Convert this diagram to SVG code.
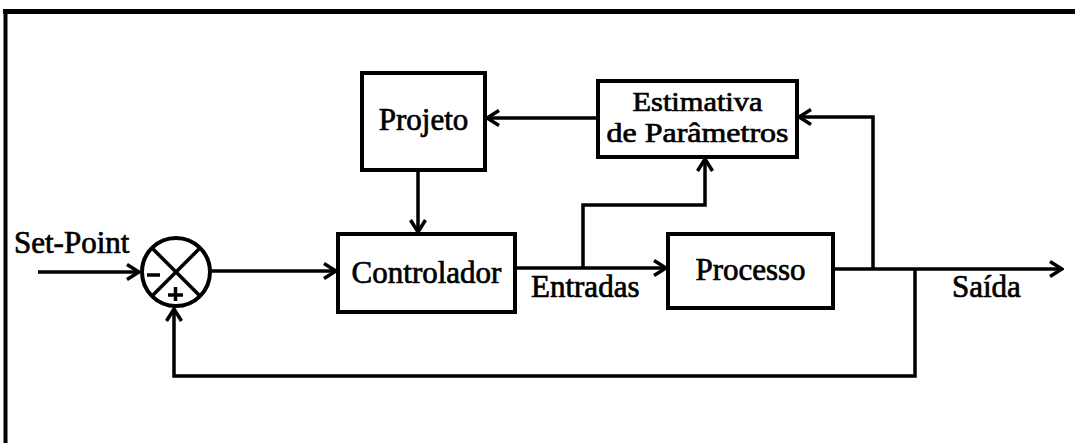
<svg xmlns="http://www.w3.org/2000/svg" width="1075" height="443" viewBox="0 0 1075 443">
<style>
.box{fill:#fff;stroke:#000;stroke-width:4}
.ln{fill:none;stroke:#000;stroke-width:3.5;stroke-linejoin:miter}
.t{font-family:"Liberation Serif","Times New Roman",serif;font-size:31px;fill:#000;stroke:#000;stroke-width:0.7}
.s{font-size:28px}
</style>
<defs>
<marker id="ah" markerUnits="userSpaceOnUse" viewBox="0 0 16 18" refX="14" refY="9" markerWidth="16" markerHeight="18" orient="auto">
<path d="M2,1.5 L14,9 L2,16.5" fill="none" stroke="#000" stroke-width="3.5"/>
</marker>
</defs>
<rect width="1075" height="443" fill="#fff"/>
<g id="frame">
<line x1="3" y1="11.5" x2="1075" y2="11.5" stroke="#000" stroke-width="5"/>
<line x1="5.5" y1="9" x2="5.5" y2="443" stroke="#000" stroke-width="4"/>
</g>
<g id="connectors">
<line class="ln" x1="38" y1="272" x2="139" y2="272" marker-end="url(#ah)"/>
<line class="ln" x1="210" y1="271" x2="336" y2="271" marker-end="url(#ah)"/>
<line class="ln" x1="515" y1="268" x2="666" y2="268" marker-end="url(#ah)"/>
<polyline class="ln" points="583,268 583,205 705,205 705,159" marker-end="url(#ah)"/>
<line class="ln" x1="833" y1="269" x2="1062" y2="269" marker-end="url(#ah)"/>
<polyline class="ln" points="873,269 873,117 799,117" marker-end="url(#ah)"/>
<line class="ln" x1="598" y1="118" x2="487" y2="118" marker-end="url(#ah)"/>
<line class="ln" x1="418" y1="170" x2="418" y2="232" marker-end="url(#ah)"/>
<polyline class="ln" points="915,269 915,376 174,376 174,309" marker-end="url(#ah)"/>
</g>
<g id="sum">
<circle cx="176" cy="272" r="34" fill="none" stroke="#000" stroke-width="4"/>
<line class="ln" x1="152" y1="248" x2="200" y2="296" stroke-width="4"/>
<line class="ln" x1="200" y1="248" x2="152" y2="296" stroke-width="4"/>
<line class="ln" x1="147" y1="275" x2="160" y2="275" stroke-width="4"/>
<line class="ln" x1="168" y1="295" x2="183" y2="295"/>
<line class="ln" x1="175.5" y1="287" x2="175.5" y2="301"/>
</g>
<g id="setpoint"><text class="t" x="14" y="253">Set-Point</text></g>
<g id="controlador">
<rect class="box" x="338" y="234" width="177" height="78"/>
<text class="t" x="426.5" y="283" text-anchor="middle">Controlador</text>
</g>
<g id="processo">
<rect class="box" x="668" y="234" width="165" height="74"/>
<text class="t" x="750.5" y="280" text-anchor="middle">Processo</text>
</g>
<g id="projeto">
<rect class="box" x="362" y="73" width="123" height="97"/>
<text class="t" x="423.5" y="130" text-anchor="middle">Projeto</text>
</g>
<g id="estimativa">
<rect class="box" x="598" y="81" width="199" height="76"/>
<text class="t s" x="632.5" y="111" textLength="130" lengthAdjust="spacingAndGlyphs">Estimativa</text>
<text class="t s" x="606.5" y="142" textLength="182" lengthAdjust="spacingAndGlyphs">de Parâmetros</text>
</g>
<g id="labels">
<text class="t" x="531" y="297">Entradas</text>
<text class="t" x="952" y="297">Saída</text>
</g>
</svg>
